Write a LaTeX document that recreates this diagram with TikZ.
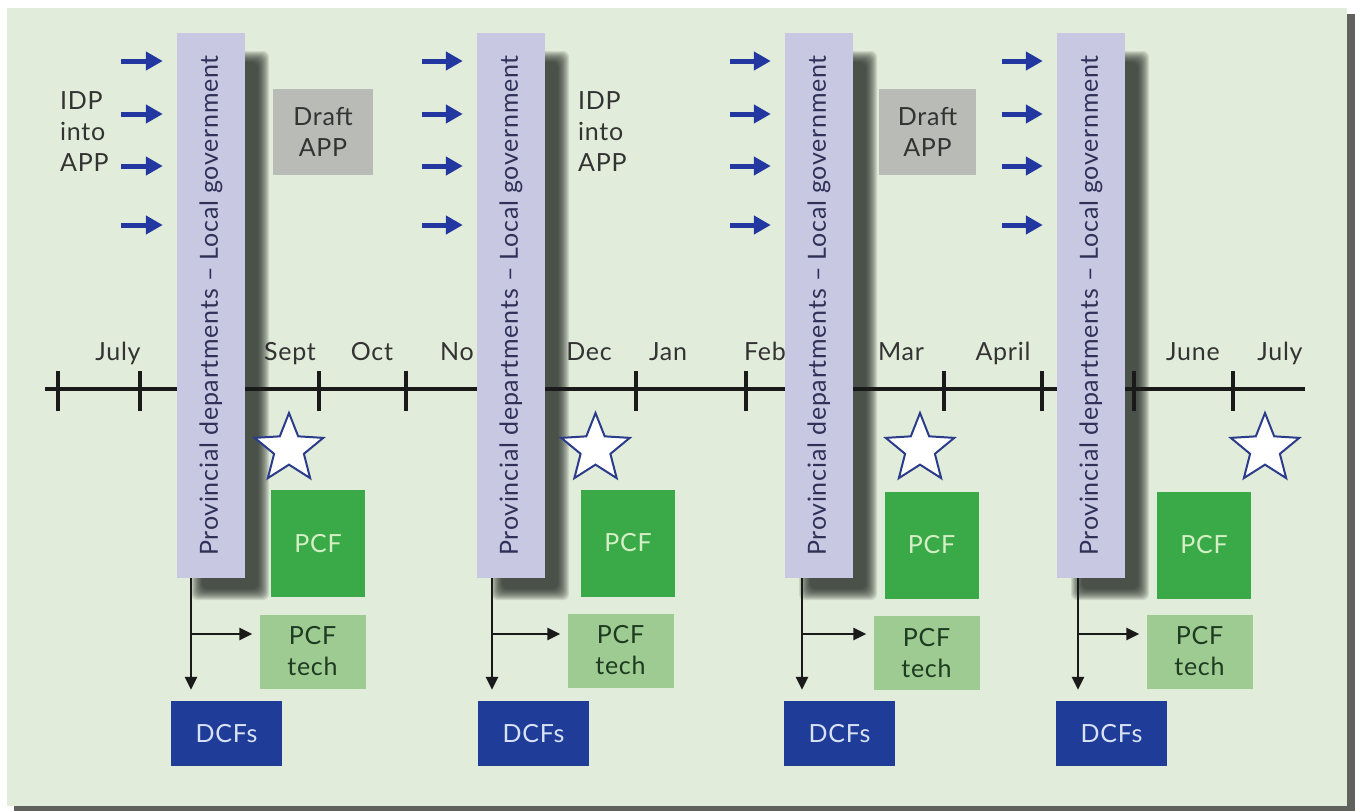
\documentclass[tikz,border=0pt]{standalone}
\usepackage{fontspec}
\setmainfont{Lato}[LetterSpace=3]
\usetikzlibrary{arrows.meta,shapes.geometric,calc}
\definecolor{panelbg}{HTML}{E2ECDA}
\definecolor{panelsh}{HTML}{5F625D}
\definecolor{barc}{HTML}{C9C8E2}
\definecolor{bartxt}{HTML}{2F3158}
\definecolor{arrblue}{HTML}{2337A0}
\definecolor{txtc}{HTML}{333333}
\definecolor{draftc}{HTML}{B9BBB7}
\definecolor{pcfc}{HTML}{3AAA48}
\definecolor{pcftxt}{HTML}{D5EFC5}
\definecolor{techc}{HTML}{9DCB92}
\definecolor{techtxt}{HTML}{1E3A20}
\definecolor{dcfc}{HTML}{1E3C98}
\definecolor{dcftxt}{HTML}{D9E2F5}
\definecolor{starc}{HTML}{2A3C8A}
\definecolor{linec}{HTML}{1A1A1A}
\definecolor{shadc}{HTML}{1E231D}
\tikzset{
  fs/.style={font=\fontsize{25}{31}\selectfont},
  bar/.style={fill=barc, minimum width=68pt, minimum height=545pt, inner sep=0pt},
  bartext/.style={fs, text=bartxt, rotate=90, inner sep=0pt},
  bluearr/.style={draw=arrblue, line width=5pt, -{Triangle[length=17pt,width=18pt]}, shorten >=14pt},
  month/.style={fs, text=txtc, anchor=base, inner sep=0pt},
  tick/.style={draw=linec, line width=4pt},
  draftbox/.style={fs, fill=draftc, text=txtc, align=center, inner sep=0pt, minimum height=86pt},
  pcfbox/.style={fs, fill=pcfc, text=pcftxt, inner sep=0pt, minimum width=94pt, minimum height=107pt},
  techbox/.style={fs, fill=techc, text=techtxt, align=center, inner sep=0pt, minimum width=106pt, minimum height=74pt},
  dcfbox/.style={fs, fill=dcfc, text=dcftxt, inner sep=0pt, minimum width=111pt, minimum height=65pt},
  starnode/.style={star, star points=5, star point ratio=2.3, minimum size=72pt, inner sep=0pt, draw=starc, line width=2pt, fill=white},
  conn/.style={draw=linec, line width=2.5pt, -{Triangle[length=13pt,width=12pt]}},
  shadlayer/.style={fill=shadc, opacity=0.11, rounded corners=6pt},
}
\begin{document}
\begin{tikzpicture}[x=1pt,y=-1pt]
\useasboundingbox (0,0) rectangle (1355,811);
% background panel
\fill[white] (0,0) rectangle (1355,811);
\fill[panelsh] (14,14) rectangle (1355,811);
\fill[panelbg] (7,8) rectangle (1347,806);

% timeline
\coordinate (tl0) at (45,389);
\coordinate (tl1) at (1305,389);
\draw[draw=linec, line width=4pt] (tl0) -- (tl1);
\foreach \x in {58,140,319,406,636,746,944,1042,1134,1233}
  \draw[tick] (\x,371) -- (\x,411);
\node[month] (m1) at (118,360) {July};
\node[month] (m2) at (290,360) {Sept};
\node[month] (m3) at (372,360) {Oct};
\node[month, anchor=base east] (m4) at (474,360) {No};
\node[month] (m5) at (589,360) {Dec};
\node[month] (m6) at (668,360) {Jan};
\node[month] (m7) at (765,360) {Feb};
\node[month] (m8) at (901,360) {Mar};
\node[month] (m9) at (1003,360) {April};
\node[month] (m10) at (1193,360) {June};
\node[month] (m11) at (1280,360) {July};

% bar shadows
\foreach \x in {177,477,785,1057}{
  \foreach \i in {0,...,11}{
    \fill[shadlayer] (\x+14+\i,33+18+\i) rectangle (\x+68+24-\i,578+22-\i);
  }
}

% bars
\node[bar] (b1) at (211,305.5) {};
\node[bar] (b2) at (511,305.5) {};
\node[bar] (b3) at (819,305.5) {};
\node[bar] (b4) at (1091,305.5) {};
\foreach \b in {b1,b2,b3,b4}
  \node[bartext] (\b t) at (\b.center) {Provincial departments – Local government};

% blue arrows
\foreach \b/\x in {b1/121,b2/422,b3/730,b4/1002}{
  \foreach \y [count=\k] in {61,114,166,225}{
    \coordinate (\b a\k) at (\x,\y);
    \draw[bluearr] (\b a\k) -- (\b a\k -| \b.west);
  }
}

% IDP text
\node[fs, text=txtc, align=left, anchor=north west, inner sep=0pt] (idp1) at (60,91) {IDP\\into\\APP};
\node[fs, text=txtc, align=left, anchor=north west, inner sep=0pt] (idp2) at (578,91) {IDP\\into\\APP};

% Draft APP
\node[draftbox, minimum width=100pt] (dr1) at (323,132) {Draft\\APP};
\node[draftbox, minimum width=97pt] (dr2) at (927.5,132) {Draft\\APP};

% stars
\node[starnode] (s1) at (289,449) {};
\node[starnode] (s2) at (595.5,449) {};
\node[starnode] (s3) at (920,449) {};
\node[starnode] (s4) at (1265,449) {};

% PCF
\node[pcfbox] (p1) at (318,543.5) {PCF};
\node[pcfbox] (p2) at (628,543) {PCF};
\node[pcfbox] (p3) at (931.5,545) {PCF};
\node[pcfbox] (p4) at (1204,545) {PCF};

% PCF tech
\node[techbox] (t1) at (312.5,651.5) {PCF\\tech};
\node[techbox] (t2) at (620.5,650.5) {PCF\\tech};
\node[techbox] (t3) at (926.5,653) {PCF\\tech};
\node[techbox] (t4) at (1199.5,651.5) {PCF\\tech};

% DCFs
\node[dcfbox] (c1) at (226.5,733.5) {DCFs};
\node[dcfbox] (c2) at (533.5,733.5) {DCFs};
\node[dcfbox] (c3) at (839.5,733.5) {DCFs};
\node[dcfbox] (c4) at (1111.5,733.5) {DCFs};

% connectors
\foreach \i/\x in {1/191,2/492,3/802,4/1078}{
  \coordinate (v\i) at (\x,578);
  \coordinate (h\i) at (\x,634);
  \draw[conn, shorten >=11pt] (v\i) -- (v\i |- c\i.north);
  \draw[conn, shorten >=7pt] (h\i) -- (h\i -| t\i.west);
}
\end{tikzpicture}
\end{document}
